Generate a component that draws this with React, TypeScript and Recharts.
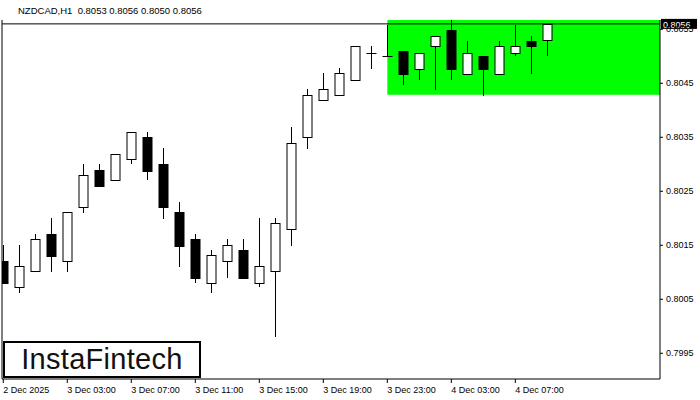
import React from "react";
import {
  ComposedChart,
  Bar,
  XAxis,
  YAxis,
  ReferenceArea,
  ReferenceLine,
} from "recharts";

// NZDCAD H1, candles from 2 Dec 23:00 to 4 Dec 09:00
const opens = [
  0.80121, 0.80072, 0.80102, 0.80171, 0.8012, 0.8022, 0.80289, 0.8027, 0.80309, 0.80351,
  0.80301, 0.80211, 0.80162, 0.80081, 0.8012, 0.80141, 0.80081, 0.80102, 0.8018, 0.8035,
  0.80419, 0.80428, 0.80457, 0.80507, 0.805, 0.80509, 0.80477, 0.80519, 0.80548, 0.80468,
  0.805, 0.80468, 0.80507, 0.80528, 0.8053,
];
const highs = [
  0.80151, 0.80151, 0.80171, 0.80201, 0.80211, 0.80301, 0.80301, 0.80319, 0.80359, 0.80359,
  0.8033, 0.8023, 0.80171, 0.80141, 0.80162, 0.80162, 0.80201, 0.80201, 0.80369, 0.80439,
  0.80469, 0.80478, 0.80519, 0.80519, 0.80558, 0.80509, 0.80507, 0.80537, 0.80567, 0.80528,
  0.805, 0.80528, 0.80558, 0.80537, 0.8056,
];
const lows = [
  0.8008, 0.80061, 0.80102, 0.80101, 0.80101, 0.8021, 0.80259, 0.8027, 0.803, 0.8027,
  0.80199, 0.8011, 0.80081, 0.80061, 0.8009, 0.8009, 0.80072, 0.79981, 0.80149, 0.80329,
  0.80419, 0.80428, 0.80457, 0.80477, 0.805, 0.80447, 0.80457, 0.80438, 0.80457, 0.80468,
  0.80427, 0.80468, 0.805, 0.80468, 0.805,
];
const closes = [
  0.80081, 0.80112, 0.80162, 0.80131, 0.80211, 0.8028, 0.80259, 0.80319, 0.80359, 0.80288,
  0.8022, 0.80149, 0.8009, 0.80132, 0.8015, 0.8009, 0.80112, 0.80191, 0.80339, 0.80428,
  0.80439, 0.80469, 0.80519, 0.80507, 0.805, 0.80468, 0.80507, 0.80537, 0.80477, 0.80507,
  0.80477, 0.80519, 0.80519, 0.80519, 0.8056,
];

const xTickIndex = [0, 4, 8, 12, 16, 20, 24, 28, 32];
const xTickLabels = [
  "2 Dec 2025", "3 Dec 03:00", "3 Dec 07:00", "3 Dec 11:00", "3 Dec 15:00",
  "3 Dec 19:00", "3 Dec 23:00", "4 Dec 03:00", "4 Dec 07:00",
];
const yTicks = [0.7995, 0.8005, 0.8015, 0.8025, 0.8035, 0.8045, 0.8055];

const lastPrice = 0.8056;
const zoneStart = 24;
const zoneLow = 0.80429;

const X_MIN = -0.08;
const X_MAX = 41.04;
const Y_MIN = 0.799024;
const Y_MAX = 0.805672;

const data = opens.map((o, i) => ({
  i,
  open: o,
  high: highs[i],
  low: lows[i],
  close: closes[i],
  range: [lows[i], highs[i]],
}));

const font = "'Liberation Sans', Arial, sans-serif";

const Candle = (props: any) => {
  const { x, y, width, height, payload } = props;
  const { open, close, high, low } = payload;
  const top = Math.min(y, y + height);
  const h = Math.abs(height);
  const k = h / (high - low);
  const yOf = (v: number) => top + (high - v) * k;
  const cx = Math.round(x + width / 2) + 0.5;
  const bodyTop = Math.round(yOf(Math.max(open, close)));
  const bodyBot = Math.round(yOf(Math.min(open, close)));
  const bull = close > open;
  return (
    <g>
      <line x1={cx} x2={cx} y1={Math.round(top)} y2={Math.round(top + h)} stroke="#000" strokeWidth={1} />
      {open === close ? (
        <line x1={cx - 5} x2={cx + 5} y1={bodyTop + 0.5} y2={bodyTop + 0.5} stroke="#000" strokeWidth={1} />
      ) : (
        <rect
          x={cx - 4.5}
          y={bodyTop + 0.5}
          width={9}
          height={Math.max(bodyBot - bodyTop, 1)}
          fill={bull ? "#fff" : "#000"}
          stroke="#000"
          strokeWidth={1}
        />
      )}
    </g>
  );
};

const XTick = (props: any) => {
  const { x, y, payload } = props;
  const idx = xTickIndex.indexOf(payload.value);
  return (
    <text x={x} y={y + 8} fontSize={9} fontFamily={font} fill="#000" textAnchor="start">
      {xTickLabels[idx]}
    </text>
  );
};

const PriceTag = (props: any) => {
  const { viewBox } = props;
  const x = viewBox.x + viewBox.width + 1;
  const y = viewBox.y;
  return (
    <g>
      <rect x={x} y={y - 5} width={36} height={10} fill="#000" />
      <text x={x + 2} y={y + 4} fontSize={9} fontFamily={font} fill="#fff">
        {lastPrice.toFixed(4)}
      </text>
    </g>
  );
};

export default function App() {
  return (
    <div style={{ position: "absolute", left: 0, top: 0, width: 700, height: 400, background: "#fff" }}>
      <ComposedChart
        width={700}
        height={400}
        data={data}
        margin={{ top: 20, right: 0, bottom: 0, left: 2 }}
      >
        <XAxis
          dataKey="i"
          type="number"
          domain={[X_MIN, X_MAX]}
          allowDataOverflow
          ticks={xTickIndex}
          tick={<XTick />}
          tickSize={4}
          height={21}
          axisLine={{ stroke: "#000" }}
          tickLine={{ stroke: "#000" }}
          interval={0}
        />
        <YAxis
          orientation="right"
          domain={[Y_MIN, Y_MAX]}
          allowDataOverflow
          ticks={yTicks}
          tickFormatter={(v: number) => v.toFixed(4)}
          tick={{ fontSize: 9, fontFamily: font, fill: "#000" }}
          tickSize={3}
          tickMargin={3}
          width={40}
          axisLine={{ stroke: "#000" }}
          tickLine={{ stroke: "#000" }}
          interval={0}
        />
        <ReferenceArea
          x1={zoneStart}
          x2={X_MAX}
          y1={zoneLow}
          y2={Y_MAX}
          fill="#00ff00"
          fillOpacity={1}
          stroke="none"
        />
        <ReferenceLine x={X_MIN} stroke="#000" />
        <ReferenceLine y={lastPrice} stroke="#000" label={<PriceTag />} />
        <Bar dataKey="range" barSize={10} shape={<Candle />} isAnimationActive={false} />
      </ComposedChart>
      <div
        style={{
          position: "absolute",
          left: 18,
          top: 5,
          fontSize: 9.5,
          fontFamily: font,
          color: "#000",
          whiteSpace: "pre",
        }}
      >
        {"NZDCAD,H1  0.8053 0.8056 0.8050 0.8056"}
      </div>
      <div
        style={{
          position: "absolute",
          left: 3,
          top: 341,
          width: 194,
          height: 33,
          border: "2px solid #000",
          background: "#fff",
          display: "flex",
          alignItems: "center",
          justifyContent: "center",
          fontFamily: font,
          fontSize: 29,
          fontWeight: 500,
          letterSpacing: 0.3,
          color: "#111",
        }}
      >
        InstaFintech
      </div>
    </div>
  );
}
